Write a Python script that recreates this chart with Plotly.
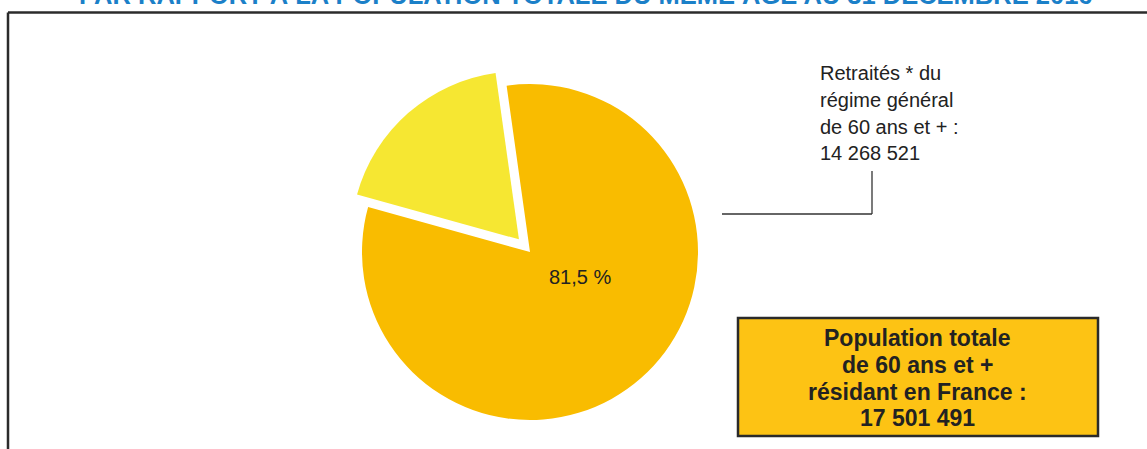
import plotly.graph_objects as go

# ---- data ----
categories = ["Retraités du régime général de 60 ans et +", "Autres résidents de 60 ans et +"]
values = [14268521, 3232970]
total_population = 17501491
slice_colors = ["#F9BC00", "#F6E732"]
pulls = [0, 0.1]

title_text = "PAR RAPPORT À LA POPULATION TOTALE DU MÊME ÂGE AU 31 DÉCEMBRE 2016"

W, H = 1147, 449


def px(x):
    return x / W


def py(y):
    return 1 - y / H


def fmt_int(n):
    return f"{n:,}".replace(",", " ")


share = values[0] / sum(values) * 100
share_label = f"{share:.1f} %".replace(".", ",")

fig = go.Figure()

# pie domain: centre (530, 252), radius 168 with pull 0.1
cx, cy, r = 530, 252, 168
half = r * (1 + max(pulls))
fig.add_trace(go.Pie(
    labels=categories,
    values=values,
    marker=dict(colors=slice_colors, line=dict(width=0)),
    pull=pulls,
    sort=False,
    direction="clockwise",
    rotation=-8,
    textinfo="none",
    hoverinfo="label+value+percent",
    showlegend=False,
    domain=dict(x=[px(cx - half), px(cx + half)], y=[py(cy + half), py(cy - half)]),
))

font_family = "Liberation Sans, Arial, sans-serif"

annotations = []
# title (clipped at top, as in reference)
annotations.append(dict(
    text=f"<b>{title_text}</b>", x=px(586), y=py(11), xref="paper", yref="paper",
    xanchor="center", yanchor="bottom", showarrow=False,
    font=dict(family=font_family, size=25.5, color="#1B80C8"),
))
# percentage label
annotations.append(dict(
    text=share_label, x=px(580), y=py(277), xref="paper", yref="paper",
    xanchor="center", yanchor="middle", showarrow=False,
    font=dict(family=font_family, size=20, color="#222222"),
))
# retirees callout text (one annotation per line for exact spacing)
callout_lines = ["Retraités * du", "régime général", "de 60 ans et + :", fmt_int(values[0])]
callout_y = [73, 100, 127, 153]
for t, yy in zip(callout_lines, callout_y):
    annotations.append(dict(
        text=t, x=px(818), y=py(yy), xref="paper", yref="paper",
        xanchor="left", yanchor="middle", align="left", showarrow=False,
        font=dict(family=font_family, size=20, color="#222222"),
    ))
# box lines
box_lines = ["Population totale", "de 60 ans et +", "résidant en France :", fmt_int(total_population)]
box_line_y = [338, 365, 392, 418]
for t, yy in zip(box_lines, box_line_y):
    annotations.append(dict(
        text=f"<b>{t}</b>", x=px(917.5), y=py(yy), xref="paper", yref="paper",
        xanchor="center", yanchor="middle", showarrow=False,
        font=dict(family=font_family, size=23, color="#222222"),
    ))

shapes = [
    # frame
    dict(type="line", xref="paper", yref="paper", x0=px(8), x1=px(1147), y0=py(12.5), y1=py(12.5),
         line=dict(color="#2b2b2b", width=2.5)),
    dict(type="line", xref="paper", yref="paper", x0=px(8), x1=px(8), y0=py(12.5), y1=py(449),
         line=dict(color="#2b2b2b", width=2.5)),
    # callout
    dict(type="line", xref="paper", yref="paper", x0=px(872), x1=px(872), y0=py(171), y1=py(214),
         line=dict(color="#333333", width=1.3)),
    dict(type="line", xref="paper", yref="paper", x0=px(722), x1=px(872), y0=py(214), y1=py(214),
         line=dict(color="#333333", width=1.3)),
    # total box
    dict(type="rect", xref="paper", yref="paper", x0=px(738), x1=px(1098), y0=py(436), y1=py(318),
         fillcolor="#FDC314", line=dict(color="#2a2a2a", width=2.5), layer="below"),
]

fig.update_layout(
    width=W, height=H,
    margin=dict(l=0, r=0, t=0, b=0),
    paper_bgcolor="white", plot_bgcolor="white",
    annotations=annotations,
    shapes=shapes,
    showlegend=False,
)

fig.write_html("out.html", config={"displayModeBar": False},
               post_script="document.body.style.margin='0';")
